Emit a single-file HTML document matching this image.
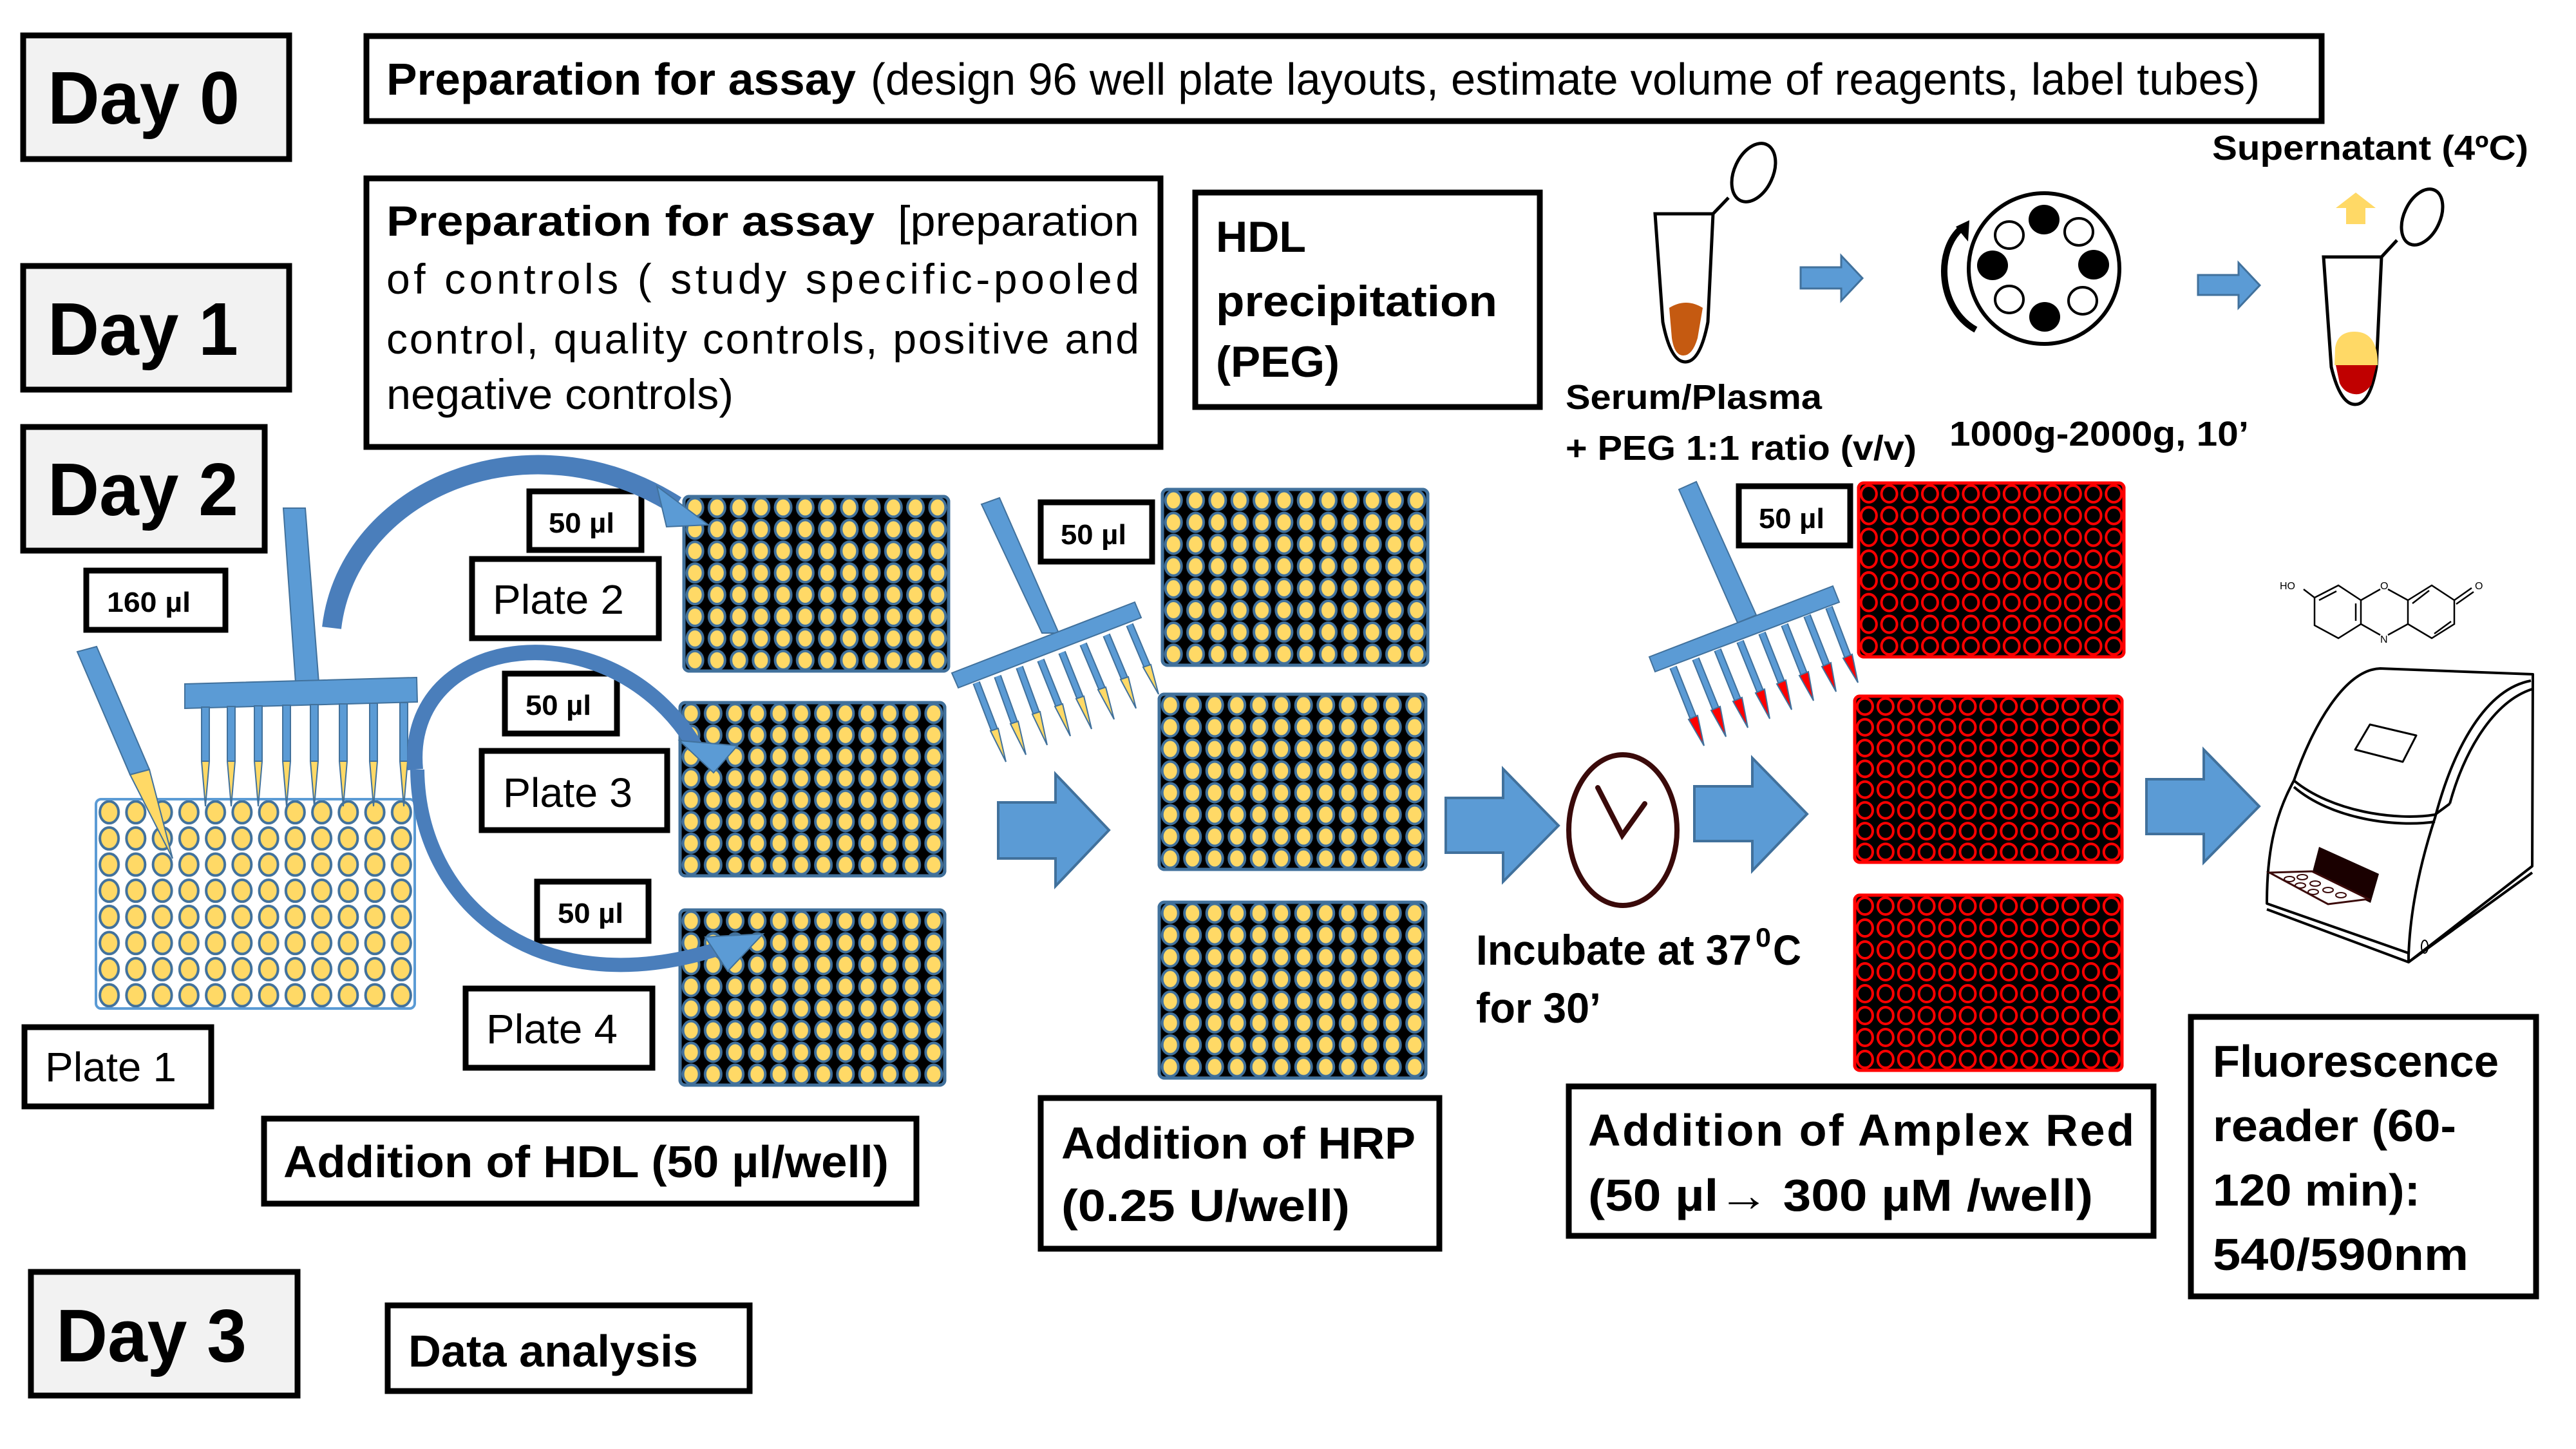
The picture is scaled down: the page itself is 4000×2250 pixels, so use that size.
<!DOCTYPE html>
<html><head><meta charset="utf-8"><style>html,body{margin:0;padding:0;background:#fff}svg{display:block}</style></head><body>
<svg xmlns="http://www.w3.org/2000/svg" width="4000" height="2250" viewBox="0 0 4000 2250" font-family="'Liberation Sans', sans-serif">
<defs>
<pattern id="pP2" patternUnits="userSpaceOnUse" x="1062" y="771" width="34.25" height="33.9"><ellipse cx="17.1" cy="16.95" rx="12.5" ry="14.5" fill="#ffd966" stroke="#41719c" stroke-width="4"/></pattern>
<pattern id="pP3" patternUnits="userSpaceOnUse" x="1056" y="1091" width="34.25" height="33.6"><ellipse cx="17.1" cy="16.8" rx="12.5" ry="14.5" fill="#ffd966" stroke="#41719c" stroke-width="4"/></pattern>
<pattern id="pP4" patternUnits="userSpaceOnUse" x="1056" y="1413" width="34.25" height="34"><ellipse cx="17.1" cy="17" rx="12.5" ry="14.5" fill="#ffd966" stroke="#41719c" stroke-width="4"/></pattern>
<pattern id="pM1" patternUnits="userSpaceOnUse" x="1805" y="760" width="34.33" height="34.1"><ellipse cx="17.2" cy="17" rx="12.5" ry="14.5" fill="#ffd966" stroke="#41719c" stroke-width="4"/></pattern>
<pattern id="pM2" patternUnits="userSpaceOnUse" x="1800" y="1078" width="34.5" height="34"><ellipse cx="17.2" cy="17" rx="12.5" ry="14.5" fill="#ffd966" stroke="#41719c" stroke-width="4"/></pattern>
<pattern id="pM3" patternUnits="userSpaceOnUse" x="1800" y="1401" width="34.5" height="34.1"><ellipse cx="17.2" cy="17" rx="12.5" ry="14.5" fill="#ffd966" stroke="#41719c" stroke-width="4"/></pattern>
<pattern id="pP1" patternUnits="userSpaceOnUse" x="149" y="1241" width="41.25" height="40.6"><ellipse cx="20.6" cy="20.3" rx="14.5" ry="17" fill="#ffd966" stroke="#41719c" stroke-width="4"/></pattern>
<pattern id="pR1" patternUnits="userSpaceOnUse" x="2886" y="750" width="31.7" height="33.75"><ellipse cx="15.85" cy="16.9" rx="12" ry="13" fill="none" stroke="#ff0000" stroke-width="4"/></pattern>
<pattern id="pR2" patternUnits="userSpaceOnUse" x="2880" y="1081" width="31.9" height="32.25"><ellipse cx="15.95" cy="16.1" rx="12" ry="12.5" fill="none" stroke="#ff0000" stroke-width="4"/></pattern>
<pattern id="pR3" patternUnits="userSpaceOnUse" x="2880" y="1390" width="31.9" height="34"><ellipse cx="15.95" cy="17" rx="12" ry="13" fill="none" stroke="#ff0000" stroke-width="4"/></pattern>
</defs>

<g stroke="#000" stroke-width="9" fill="#f2f2f2">
<rect x="36" y="55" width="413" height="192"/>
<rect x="36" y="413" width="413" height="192"/>
<rect x="36" y="663" width="375" height="192"/>
<rect x="48" y="1975" width="414" height="192"/>
</g>
<g font-weight="bold" font-size="116" fill="#000">
<text x="74" y="192" textLength="298" lengthAdjust="spacingAndGlyphs">Day 0</text>
<text x="74" y="551" textLength="296" lengthAdjust="spacingAndGlyphs">Day 1</text>
<text x="74" y="800" textLength="296" lengthAdjust="spacingAndGlyphs">Day 2</text>
<text x="87" y="2114" textLength="296" lengthAdjust="spacingAndGlyphs">Day 3</text>
</g>

<g stroke="#000" stroke-width="9" fill="#fff">
<rect x="569" y="56" width="3036" height="132"/>
<rect x="569" y="277" width="1233" height="417"/>
<rect x="1856" y="299" width="535" height="333"/>
<rect x="134" y="886" width="216" height="92"/>
<rect x="822" y="763" width="174" height="91"/>
<rect x="733" y="868" width="290" height="123"/>
<rect x="784" y="1046" width="174" height="93"/>
<rect x="748" y="1166" width="288" height="123"/>
<rect x="834" y="1369" width="173" height="92"/>
<rect x="723" y="1535" width="290" height="123"/>
<rect x="38" y="1595" width="290" height="123"/>
<rect x="410" y="1737" width="1013" height="132"/>
<rect x="602" y="2027" width="562" height="133"/>
<rect x="1616" y="780" width="173" height="92"/>
<rect x="1616" y="1705" width="619" height="234"/>
<rect x="2700" y="755" width="173" height="92"/>
<rect x="2436" y="1687" width="908" height="232"/>
<rect x="3402" y="1579" width="536" height="434"/>
</g>

<g fill="#000">
<text x="600" y="147" font-size="70" font-weight="bold" textLength="729" lengthAdjust="spacingAndGlyphs">Preparation for assay</text>
<text x="1352" y="147" font-size="70" textLength="2157" lengthAdjust="spacingAndGlyphs">(design 96 well plate layouts, estimate volume of reagents, label tubes)</text>
<text x="600" y="366" font-size="66" font-weight="bold" textLength="758" lengthAdjust="spacingAndGlyphs">Preparation for assay</text>
<text x="1394" y="366" font-size="66" textLength="375" lengthAdjust="spacingAndGlyphs">[preparation</text>
<text x="600" y="456" font-size="66" textLength="1169" lengthAdjust="spacing">of  controls  (  study  specific-pooled</text>
<text x="600" y="549" font-size="66" textLength="1169" lengthAdjust="spacing">control, quality controls, positive and</text>
<text x="600" y="635" font-size="66" textLength="539" lengthAdjust="spacingAndGlyphs">negative controls)</text>
<g font-weight="bold" font-size="68">
<text x="1888" y="391" textLength="140" lengthAdjust="spacingAndGlyphs">HDL</text>
<text x="1888" y="491" textLength="437" lengthAdjust="spacingAndGlyphs">precipitation</text>
<text x="1888" y="585" textLength="192" lengthAdjust="spacingAndGlyphs">(PEG)</text>
</g>
<g font-weight="bold" font-size="44">
<text x="166" y="950" textLength="130" lengthAdjust="spacingAndGlyphs">160 µl</text>
<text x="852" y="827" textLength="102" lengthAdjust="spacingAndGlyphs">50 µl</text>
<text x="816" y="1110" textLength="102" lengthAdjust="spacingAndGlyphs">50 µl</text>
<text x="866" y="1433" textLength="102" lengthAdjust="spacingAndGlyphs">50 µl</text>
<text x="1647" y="845" textLength="102" lengthAdjust="spacingAndGlyphs">50 µl</text>
<text x="2731" y="820" textLength="102" lengthAdjust="spacingAndGlyphs">50 µl</text>
</g>
<g font-size="64">
<text x="765" y="953" textLength="204" lengthAdjust="spacingAndGlyphs">Plate 2</text>
<text x="781" y="1253" textLength="201" lengthAdjust="spacingAndGlyphs">Plate 3</text>
<text x="755" y="1620" textLength="204" lengthAdjust="spacingAndGlyphs">Plate 4</text>
<text x="70" y="1679" textLength="204" lengthAdjust="spacingAndGlyphs">Plate 1</text>
</g>
<g font-weight="bold" font-size="70">
<text x="440" y="1828" textLength="940" lengthAdjust="spacingAndGlyphs">Addition of HDL (50 µl/well)</text>
<text x="634" y="2122" textLength="450" lengthAdjust="spacingAndGlyphs">Data analysis</text>
<text x="1648" y="1799" textLength="550" lengthAdjust="spacingAndGlyphs">Addition of HRP</text>
<text x="1648" y="1896" textLength="448" lengthAdjust="spacingAndGlyphs">(0.25 U/well)</text>
<text x="2466" y="1779" textLength="848" lengthAdjust="spacing">Addition of Amplex Red</text>
<text x="2466" y="1880" textLength="784" lengthAdjust="spacingAndGlyphs">(50 µl→ 300 µM /well)</text>
<text x="3436" y="1672" textLength="444" lengthAdjust="spacingAndGlyphs">Fluorescence</text>
<text x="3436" y="1772" textLength="378" lengthAdjust="spacingAndGlyphs">reader (60-</text>
<text x="3436" y="1872" textLength="322" lengthAdjust="spacingAndGlyphs">120 min):</text>
<text x="3436" y="1972" textLength="397" lengthAdjust="spacingAndGlyphs">540/590nm</text>
</g>
<g font-weight="bold" font-size="66">
<text x="2292" y="1498" textLength="428" lengthAdjust="spacingAndGlyphs">Incubate at 37</text>
<text x="2726" y="1470" font-size="42" textLength="24" lengthAdjust="spacingAndGlyphs">0</text>
<text x="2753" y="1498" textLength="44" lengthAdjust="spacingAndGlyphs">C</text>
<text x="2292" y="1588" textLength="194" lengthAdjust="spacingAndGlyphs">for 30’</text>
</g>
<g font-weight="bold" font-size="54">
<text x="3435" y="248" textLength="491" lengthAdjust="spacingAndGlyphs">Supernatant (4ºC)</text>
<text x="2431" y="635" textLength="398" lengthAdjust="spacingAndGlyphs">Serum/Plasma</text>
<text x="2431" y="714" textLength="545" lengthAdjust="spacingAndGlyphs">+ PEG 1:1 ratio (v/v)</text>
<text x="3027" y="692" textLength="465" lengthAdjust="spacingAndGlyphs">1000g-2000g, 10’</text>
</g>
</g>

<g stroke-width="5">
<rect x="1062" y="771" width="411" height="271" rx="8" fill="#000" stroke="#41719c"/><rect x="1062" y="771" width="411" height="271" rx="8" fill="url(#pP2)" stroke="#41719c"/>
<rect x="1056" y="1091" width="411" height="269" rx="8" fill="#000" stroke="#41719c"/><rect x="1056" y="1091" width="411" height="269" rx="8" fill="url(#pP3)" stroke="#41719c"/>
<rect x="1056" y="1413" width="411" height="272" rx="8" fill="#000" stroke="#41719c"/><rect x="1056" y="1413" width="411" height="272" rx="8" fill="url(#pP4)" stroke="#41719c"/>
<rect x="1805" y="760" width="412" height="273" rx="8" fill="#000" stroke="#41719c"/><rect x="1805" y="760" width="412" height="273" rx="8" fill="url(#pM1)" stroke="#41719c"/>
<rect x="1800" y="1078" width="414" height="272" rx="8" fill="#000" stroke="#41719c"/><rect x="1800" y="1078" width="414" height="272" rx="8" fill="url(#pM2)" stroke="#41719c"/>
<rect x="1800" y="1401" width="414" height="273" rx="8" fill="#000" stroke="#41719c"/><rect x="1800" y="1401" width="414" height="273" rx="8" fill="url(#pM3)" stroke="#41719c"/>
<rect x="149" y="1241" width="495" height="325" rx="8" fill="url(#pP1)" stroke="#5b9bd5" stroke-width="4"/>
<rect x="2886" y="750" width="412" height="270" rx="8" fill="#000" stroke="#ff0000"/><rect x="2886" y="750" width="412" height="270" rx="8" fill="url(#pR1)" stroke="#ff0000"/>
<rect x="2880" y="1081" width="415" height="258" rx="8" fill="#000" stroke="#ff0000"/><rect x="2880" y="1081" width="415" height="258" rx="8" fill="url(#pR2)" stroke="#ff0000"/>
<rect x="2880" y="1390" width="415" height="272" rx="8" fill="#000" stroke="#ff0000"/><rect x="2880" y="1390" width="415" height="272" rx="8" fill="url(#pR3)" stroke="#ff0000"/>
</g>

<g fill="#5b9bd5" stroke="#41719c" stroke-width="2">
<polygon points="120,1012 150,1004 232,1195 202,1203"/>
<polygon points="202,1203 232,1195 268,1333" fill="#ffd966"/>
<polygon points="440,789 474,789 495,1060 459,1060"/>
<polygon points="287,1062 647,1052 648,1090 287,1100"/>
</g>
<g stroke="#41719c" stroke-width="2">
<g fill="#5b9bd5">
<rect x="313" y="1098" width="12" height="84"/><rect x="353" y="1097" width="12" height="85"/><rect x="395" y="1096" width="12" height="86"/><rect x="439" y="1095" width="12" height="87"/><rect x="482" y="1094" width="12" height="88"/><rect x="527" y="1093" width="12" height="89"/><rect x="574" y="1092" width="12" height="90"/><rect x="621" y="1091" width="12" height="91"/>
</g>
<g fill="#ffd966">
<polygon points="313,1182 325,1182 319,1252"/><polygon points="353,1182 365,1182 359,1252"/><polygon points="395,1182 407,1182 401,1252"/><polygon points="439,1182 451,1182 445,1252"/><polygon points="482,1182 494,1182 488,1252"/><polygon points="527,1182 539,1182 533,1252"/><polygon points="574,1182 586,1182 580,1252"/><polygon points="621,1182 633,1182 627,1252"/>
</g>
</g>

<!-- curved arrows -->
<g fill="none" stroke-linecap="butt">
<path d="M 515 975 C 540 760, 820 640, 1050 785" stroke="#4a7ebb" stroke-width="30"/>
<path d="M 645 1195 C 625 980, 950 940, 1080 1160" stroke="#4a7ebb" stroke-width="24"/>
<path d="M 648 1195 C 650 1400, 830 1560, 1110 1475" stroke="#4a7ebb" stroke-width="22"/>
</g>
<g fill="#5b9bd5" stroke="#41719c" stroke-width="2">
<polygon points="1020,755 1100,815 1035,818"/>
<polygon points="1055,1150 1145,1158 1108,1200"/>
<polygon points="1095,1455 1185,1450 1130,1508"/>
</g>

<g stroke="#41719c" stroke-width="2">
<polygon points="1524,783 1552,773 1644,983 1618,983" fill="#5b9bd5"/>
<polygon points="1478,1045 1762,935 1772,959 1488,1068" fill="#5b9bd5"/>
<g stroke="#41719c" stroke-width="12"><line x1="1516" y1="1060" x2="1544" y2="1133"/><line x1="1549" y1="1050" x2="1575" y2="1122"/><line x1="1583" y1="1036" x2="1609" y2="1107"/><line x1="1616" y1="1025" x2="1644" y2="1095"/><line x1="1649" y1="1013" x2="1677" y2="1083"/><line x1="1682" y1="1000" x2="1711" y2="1069"/><line x1="1718" y1="986" x2="1746" y2="1053"/><line x1="1754" y1="970" x2="1781" y2="1034"/></g>
<g stroke="#5b9bd5" stroke-width="8"><line x1="1516" y1="1060" x2="1544" y2="1133"/><line x1="1549" y1="1050" x2="1575" y2="1122"/><line x1="1583" y1="1036" x2="1609" y2="1107"/><line x1="1616" y1="1025" x2="1644" y2="1095"/><line x1="1649" y1="1013" x2="1677" y2="1083"/><line x1="1682" y1="1000" x2="1711" y2="1069"/><line x1="1718" y1="986" x2="1746" y2="1053"/><line x1="1754" y1="970" x2="1781" y2="1034"/></g>
<g fill="#ffd966" stroke="#41719c" stroke-width="2"><polygon points="1538,1135 1550,1131 1562,1183"/><polygon points="1569,1124 1581,1120 1593,1172"/><polygon points="1603,1109 1615,1105 1626,1157"/><polygon points="1638,1097 1650,1093 1662,1143"/><polygon points="1671,1085 1683,1081 1695,1132"/><polygon points="1705,1071 1717,1067 1730,1117"/><polygon points="1740,1055 1752,1051 1764,1100"/><polygon points="1775,1036 1787,1032 1799,1078"/></g>
</g>

<g stroke="#41719c" stroke-width="2">
<polygon points="2607,760 2634,748 2727,955 2698,967" fill="#5b9bd5"/>
<polygon points="2561,1020 2846,910 2856,935 2570,1043" fill="#5b9bd5"/>
<g stroke="#41719c" stroke-width="12"><line x1="2598" y1="1036" x2="2629" y2="1114"/><line x1="2633" y1="1023" x2="2664" y2="1100"/><line x1="2667" y1="1009" x2="2698" y2="1086"/><line x1="2702" y1="996" x2="2733" y2="1073"/><line x1="2736" y1="983" x2="2766" y2="1059"/><line x1="2771" y1="970" x2="2801" y2="1046"/><line x1="2806" y1="956" x2="2836" y2="1032"/><line x1="2840" y1="943" x2="2869" y2="1019"/></g>
<g stroke="#5b9bd5" stroke-width="8"><line x1="2598" y1="1036" x2="2629" y2="1114"/><line x1="2633" y1="1023" x2="2664" y2="1100"/><line x1="2667" y1="1009" x2="2698" y2="1086"/><line x1="2702" y1="996" x2="2733" y2="1073"/><line x1="2736" y1="983" x2="2766" y2="1059"/><line x1="2771" y1="970" x2="2801" y2="1046"/><line x1="2806" y1="956" x2="2836" y2="1032"/><line x1="2840" y1="943" x2="2869" y2="1019"/></g>
<g fill="#ff0000" stroke="#41719c" stroke-width="2"><polygon points="2622,1117 2636,1111 2646,1158"/><polygon points="2657,1103 2671,1097 2680,1144"/><polygon points="2691,1089 2705,1083 2714,1130"/><polygon points="2726,1076 2740,1070 2748,1116"/><polygon points="2759,1062 2773,1056 2782,1102"/><polygon points="2794,1049 2808,1043 2816,1088"/><polygon points="2829,1035 2843,1029 2851,1074"/><polygon points="2862,1022 2876,1016 2885,1060"/></g>
</g>

<g fill="#5b9bd5" stroke="#41719c" stroke-width="4">
<polygon points="1550,1246 1639,1246 1639,1202 1722,1289 1639,1376 1639,1333 1550,1333"/>
<polygon points="2245,1239 2334,1239 2334,1194 2420,1282 2334,1369 2334,1324 2245,1324"/>
<polygon points="2631,1221 2721,1221 2721,1177 2806,1264 2721,1352 2721,1306 2631,1306"/>
<polygon points="3333,1210 3422,1210 3422,1164 3508,1252 3422,1339 3422,1295 3333,1295"/>
<polygon points="2796,415 2859,415 2859,397 2892,432 2859,467 2859,448 2796,448" stroke-width="3"/>
<polygon points="3413,427 3476,427 3476,408 3509,443 3476,478 3476,458 3413,458" stroke-width="3"/>
</g>
<polygon points="3643,348 3673,348 3673,323 3689,323 3658,299 3627,323 3643,323" fill="#ffd966"/>

<ellipse cx="2520" cy="1289" rx="84" ry="117" fill="#fff" stroke="#3a0a0a" stroke-width="8"/>
<polyline points="2481,1223 2519,1297 2554,1248" fill="none" stroke="#3a0a0a" stroke-width="8" stroke-linecap="round"/>

<g stroke="#000" stroke-width="5" fill="#fff">
<path d="M 2570 332 L 2660 332 L 2652 500 Q 2640 562 2617 562 Q 2594 562 2582 500 Z"/>
<path d="M 2660 332 L 2684 307"/>
<ellipse cx="2723" cy="268" rx="30" ry="48" transform="rotate(25 2723 268)"/>
<path d="M 3608 399 L 3698 399 L 3690 570 Q 3680 628 3657 628 Q 3634 628 3620 570 Z"/>
<path d="M 3698 399 L 3722 373"/>
<ellipse cx="3761" cy="337" rx="28" ry="46" transform="rotate(25 3761 337)"/>
</g>
<path d="M 2592 478 Q 2618 462 2644 478 L 2636 525 Q 2628 552 2614 552 Q 2600 552 2596 525 Z" fill="#c55a11"/>
<path d="M 3626 540 Q 3630 515 3656 515 Q 3690 515 3692 560 L 3692 567 L 3625 567 Z" fill="#ffd966"/>
<path d="M 3627 567 L 3690 567 L 3682 598 Q 3670 614 3656 612 Q 3640 610 3633 595 Z" fill="#c00000"/>

<ellipse cx="3174" cy="417" rx="117" ry="117" fill="#fff" stroke="#000" stroke-width="6"/>
<g fill="#000"><ellipse cx="3174" cy="341" rx="24" ry="23"/><ellipse cx="3094" cy="412" rx="24" ry="23"/><ellipse cx="3251" cy="411" rx="24" ry="23"/><ellipse cx="3175" cy="492" rx="24" ry="23"/></g>
<g fill="#fff" stroke="#000" stroke-width="4"><ellipse cx="3120" cy="365" rx="22" ry="21"/><ellipse cx="3228" cy="360" rx="22" ry="21"/><ellipse cx="3120" cy="465" rx="22" ry="21"/><ellipse cx="3234" cy="467" rx="22" ry="21"/></g>
<path d="M 3068 512 C 3010 480, 3005 390, 3045 355" fill="none" stroke="#000" stroke-width="10"/>
<polygon points="3037,352 3058,342 3056,375" fill="#000"/>

<g fill="none" stroke="#000" stroke-width="2.5">
<polygon points="3594,928 3631,909 3666,932 3666,969 3631,991 3594,971"/>
<polygon points="3739,932 3776,909 3811,932 3811,969 3776,991 3739,969"/>
<polyline points="3666,932 3696,915"/><polyline points="3708,915 3739,932"/>
<polyline points="3666,969 3696,986"/><polyline points="3708,986 3739,969"/>
<line x1="3577" y1="915" x2="3594" y2="928"/>
<line x1="3811" y1="932" x2="3838" y2="913"/><line x1="3814" y1="938" x2="3841" y2="919"/>
<line x1="3601" y1="932" x2="3628" y2="918"/><line x1="3658" y1="937" x2="3658" y2="964"/><line x1="3746" y1="937" x2="3772" y2="917"/><line x1="3780" y1="984" x2="3806" y2="965"/>
</g>
<g font-size="16" fill="#000"><text x="3540" y="915">HO</text><text x="3696" y="915">O</text><text x="3696" y="998">N</text><text x="3843" y="915">O</text></g>

<g fill="none" stroke="#000" stroke-width="4" stroke-linejoin="round">
<path d="M 3696 1038 L 3933 1047 L 3932 1345 L 3740 1494 L 3740 1480 L 3520 1403 C 3520 1330, 3530 1270, 3562 1212 C 3590 1130, 3640 1040, 3696 1038 Z"/>
<path d="M 3562 1212 C 3620 1260, 3720 1275, 3781 1265 L 3804 1248"/>
<path d="M 3562 1222 C 3620 1272, 3720 1285, 3781 1276"/>
<path d="M 3930 1057 C 3860 1070, 3810 1160, 3781 1270 C 3755 1350, 3742 1420, 3740 1485"/>
<path d="M 3932 1070 C 3870 1090, 3825 1170, 3804 1248"/>
<path d="M 3520 1412 L 3740 1494 M 3740 1494 L 3932 1355"/>
<polygon points="3680,1125 3752,1142 3731,1183 3657,1164" stroke-width="3"/>
</g>
<polygon points="3601,1315 3694,1357 3681,1402 3590,1357" fill="#1a0000"/>
<polygon points="3524,1355 3590,1353 3678,1396 3615,1404" fill="#fff" stroke="#3a0a0a" stroke-width="3"/>
<g fill="none" stroke="#3a0a0a" stroke-width="2"><ellipse cx="3555" cy="1365" rx="8" ry="4"/><ellipse cx="3575" cy="1362" rx="8" ry="4"/><ellipse cx="3572" cy="1375" rx="8" ry="4"/><ellipse cx="3595" cy="1372" rx="8" ry="4"/><ellipse cx="3592" cy="1385" rx="8" ry="4"/><ellipse cx="3615" cy="1382" rx="8" ry="4"/><ellipse cx="3635" cy="1390" rx="8" ry="4"/></g>
<ellipse cx="3765" cy="1470" rx="5" ry="10" fill="none" stroke="#000" stroke-width="2"/>
</svg>
</body></html>
